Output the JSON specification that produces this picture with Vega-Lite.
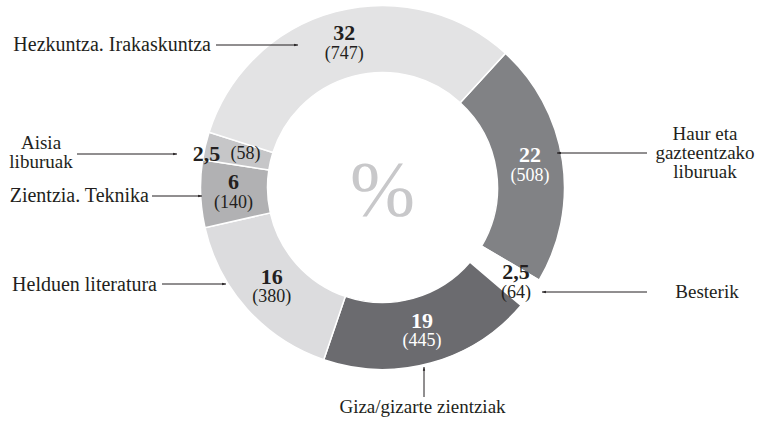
{
  "$schema": "https://vega.github.io/schema/vega-lite/v6.json",
  "width": 763,
  "height": 421,
  "autosize": {"type": "fit", "contains": "padding"},
  "padding": 0,
  "background": "white",
  "config": {"view": {"stroke": null}, "text": {"font": "Liberation Serif", "color": "#231f20"}},
  "datasets": {
    "slices": [
      {"cat": "Haur eta gazteentzako liburuak", "count": 508, "pct": "22", "lab": "(508)", "ord": 1},
      {"cat": "Besterik", "count": 64, "pct": "2,5", "lab": "(64)", "ord": 2},
      {"cat": "Giza/gizarte zientziak", "count": 445, "pct": "19", "lab": "(445)", "ord": 3},
      {"cat": "Helduen literatura", "count": 380, "pct": "16", "lab": "(380)", "ord": 4},
      {"cat": "Zientzia. Teknika", "count": 140, "pct": "6", "lab": "(140)", "ord": 5},
      {"cat": "Aisia liburuak", "count": 58, "pct": "2,5", "lab": "(58)", "ord": 6},
      {"cat": "Hezkuntza. Irakaskuntza", "count": 747, "pct": "32", "lab": "(747)", "ord": 7}
    ],
    "labelsR": [
      {"t": "Hezkuntza. Irakaskuntza", "x": -171.5, "y": 142.5},
      {"t": "Zientzia. Teknika", "x": -233.5, "y": -8.5},
      {"t": "Helduen literatura", "x": -225.5, "y": -97.5}
    ],
    "labelsC": [
      {"t": "Aisia", "x": -341.5, "y": 44.5},
      {"t": "liburuak", "x": -341.5, "y": 25.5},
      {"t": "Giza/gizarte zientziak", "x": 40, "y": -219.5},
      {"t": "Besterik", "x": 324.5, "y": -104.5},
      {"t": "Haur eta", "x": 322.5, "y": 53.5},
      {"t": "gazteentzako", "x": 322.5, "y": 34.5},
      {"t": "liburuak", "x": 322.5, "y": 15.5}
    ],
    "arrows": [
      {"x": -166.5, "y": 142.5, "x2": -84.5, "y2": 142.5, "dir": "right"},
      {"x": -305.5, "y": 33.5, "x2": -205.5, "y2": 33.5, "dir": "right"},
      {"x": -230.5, "y": -8.5, "x2": -180.5, "y2": -8.5, "dir": "right"},
      {"x": -220.5, "y": -96.5, "x2": -156.5, "y2": -96.5, "dir": "right"},
      {"x": 41.5, "y": -209.5, "x2": 41.5, "y2": -179.5, "dir": "up"},
      {"x": 264.5, "y": -104.5, "x2": 159.5, "y2": -104.5, "dir": "left"},
      {"x": 264.5, "y": 34.5, "x2": 174.5, "y2": 34.5, "dir": "left"}
    ]
  },
  "layer": [
    {
      "data": {"name": "slices"},
      "mark": {"type": "arc", "innerRadius": 115, "outerRadius": 182, "stroke": "white", "strokeWidth": 1.5},
      "encoding": {
        "x": {"datum": 0, "type": "quantitative", "scale": {"domain": [-382.5, 380.5], "nice": false, "zero": false}, "axis": null},
        "y": {"datum": 0, "type": "quantitative", "scale": {"domain": [-233.5, 187.5], "nice": false, "zero": false}, "axis": null},
        "theta": {"field": "count", "type": "quantitative", "stack": true, "scale": {"range": [0.742, 7.025]}},
        "order": {"field": "ord", "type": "quantitative"},
        "color": {
          "field": "cat", "type": "nominal", "legend": null,
          "scale": {
            "domain": ["Haur eta gazteentzako liburuak", "Besterik", "Giza/gizarte zientziak", "Helduen literatura", "Zientzia. Teknika", "Aisia liburuak", "Hezkuntza. Irakaskuntza"],
            "range": ["#818285", "#ffffff", "#6b6b6f", "#dcdcde", "#b1b1b3", "#c6c6c8", "#e3e3e4"]
          }
        }
      }
    },
    {
      "data": {"name": "slices"},
      "mark": {"type": "text", "radius": 149, "dy": -10.5, "fontSize": 22, "fontWeight": "bold", "font": "Liberation Serif"},
      "encoding": {
        "x": {"datum": 0, "type": "quantitative", "scale": {"domain": [-382.5, 380.5], "nice": false, "zero": false}, "axis": null},
        "y": {"datum": 0, "type": "quantitative", "scale": {"domain": [-233.5, 187.5], "nice": false, "zero": false}, "axis": null},
        "theta": {"field": "count", "type": "quantitative", "stack": true, "scale": {"range": [0.742, 7.025]}},
        "order": {"field": "ord", "type": "quantitative"},
        "detail": {"field": "cat", "type": "nominal"},
        "text": {"field": "pct", "type": "nominal", "condition": {"test": "datum.cat === 'Aisia liburuak' || datum.cat === 'Besterik'", "value": ""}},
        "color": {"condition": {"test": "datum.cat === 'Haur eta gazteentzako liburuak' || datum.cat === 'Giza/gizarte zientziak'", "value": "#ffffff"}, "value": "#231f20"}
      }
    },
    {
      "data": {"name": "slices"},
      "mark": {"type": "text", "radius": 149, "dy": 10, "fontSize": 18, "font": "Liberation Serif"},
      "encoding": {
        "x": {"datum": 0, "type": "quantitative", "scale": {"domain": [-382.5, 380.5], "nice": false, "zero": false}, "axis": null},
        "y": {"datum": 0, "type": "quantitative", "scale": {"domain": [-233.5, 187.5], "nice": false, "zero": false}, "axis": null},
        "theta": {"field": "count", "type": "quantitative", "stack": true, "scale": {"range": [0.742, 7.025]}},
        "order": {"field": "ord", "type": "quantitative"},
        "detail": {"field": "cat", "type": "nominal"},
        "text": {"field": "lab", "type": "nominal", "condition": {"test": "datum.cat === 'Aisia liburuak' || datum.cat === 'Besterik'", "value": ""}},
        "color": {"condition": {"test": "datum.cat === 'Haur eta gazteentzako liburuak' || datum.cat === 'Giza/gizarte zientziak'", "value": "#ffffff"}, "value": "#231f20"}
      }
    },
    {
      "data": {"name": "slices"},
      "mark": {"type": "text", "radius": 164, "dy": -10.5, "fontSize": 22, "fontWeight": "bold", "font": "Liberation Serif"},
      "encoding": {
        "x": {"datum": 0, "type": "quantitative", "scale": {"domain": [-382.5, 380.5], "nice": false, "zero": false}, "axis": null},
        "y": {"datum": 0, "type": "quantitative", "scale": {"domain": [-233.5, 187.5], "nice": false, "zero": false}, "axis": null},
        "theta": {"field": "count", "type": "quantitative", "stack": true, "scale": {"range": [0.742, 7.025]}},
        "order": {"field": "ord", "type": "quantitative"},
        "detail": {"field": "cat", "type": "nominal"},
        "text": {"field": "pct", "type": "nominal", "condition": {"test": "datum.cat !== 'Besterik'", "value": ""}}
      }
    },
    {
      "data": {"name": "slices"},
      "mark": {"type": "text", "radius": 164, "dy": 10, "fontSize": 18, "font": "Liberation Serif"},
      "encoding": {
        "x": {"datum": 0, "type": "quantitative", "scale": {"domain": [-382.5, 380.5], "nice": false, "zero": false}, "axis": null},
        "y": {"datum": 0, "type": "quantitative", "scale": {"domain": [-233.5, 187.5], "nice": false, "zero": false}, "axis": null},
        "theta": {"field": "count", "type": "quantitative", "stack": true, "scale": {"range": [0.742, 7.025]}},
        "order": {"field": "ord", "type": "quantitative"},
        "detail": {"field": "cat", "type": "nominal"},
        "text": {"field": "lab", "type": "nominal", "condition": {"test": "datum.cat !== 'Besterik'", "value": ""}}
      }
    },
    {
      "data": {"name": "slices"},
      "mark": {"type": "text", "radius": 149, "dx": -31, "dy": 1, "fontSize": 22, "fontWeight": "bold", "font": "Liberation Serif"},
      "encoding": {
        "x": {"datum": 0, "type": "quantitative", "scale": {"domain": [-382.5, 380.5], "nice": false, "zero": false}, "axis": null},
        "y": {"datum": 0, "type": "quantitative", "scale": {"domain": [-233.5, 187.5], "nice": false, "zero": false}, "axis": null},
        "theta": {"field": "count", "type": "quantitative", "stack": true, "scale": {"range": [0.742, 7.025]}},
        "order": {"field": "ord", "type": "quantitative"},
        "detail": {"field": "cat", "type": "nominal"},
        "text": {"field": "pct", "type": "nominal", "condition": {"test": "datum.cat !== 'Aisia liburuak'", "value": ""}}
      }
    },
    {
      "data": {"name": "slices"},
      "mark": {"type": "text", "radius": 149, "dx": 8, "dy": 1, "fontSize": 18, "font": "Liberation Serif"},
      "encoding": {
        "x": {"datum": 0, "type": "quantitative", "scale": {"domain": [-382.5, 380.5], "nice": false, "zero": false}, "axis": null},
        "y": {"datum": 0, "type": "quantitative", "scale": {"domain": [-233.5, 187.5], "nice": false, "zero": false}, "axis": null},
        "theta": {"field": "count", "type": "quantitative", "stack": true, "scale": {"range": [0.742, 7.025]}},
        "order": {"field": "ord", "type": "quantitative"},
        "detail": {"field": "cat", "type": "nominal"},
        "text": {"field": "lab", "type": "nominal", "condition": {"test": "datum.cat !== 'Aisia liburuak'", "value": ""}}
      }
    },
    {
      "data": {"values": [{"t": "%"}]},
      "mark": {"type": "text", "fontSize": 78, "font": "Liberation Serif", "color": "#c8c8ca", "baseline": "middle", "align": "center"},
      "encoding": {
        "x": {"datum": 0, "type": "quantitative", "scale": {"domain": [-382.5, 380.5], "nice": false, "zero": false}, "axis": null},
        "y": {"datum": -4, "type": "quantitative", "scale": {"domain": [-233.5, 187.5], "nice": false, "zero": false}, "axis": null},
        "text": {"field": "t", "type": "nominal"}
      }
    },
    {
      "data": {"name": "labelsR"},
      "mark": {"type": "text", "fontSize": 20, "font": "Liberation Serif", "align": "right", "baseline": "middle", "color": "#231f20"},
      "encoding": {
        "x": {"field": "x", "type": "quantitative", "scale": {"domain": [-382.5, 380.5], "nice": false, "zero": false}, "axis": null},
        "y": {"field": "y", "type": "quantitative", "scale": {"domain": [-233.5, 187.5], "nice": false, "zero": false}, "axis": null},
        "text": {"field": "t", "type": "nominal"}
      }
    },
    {
      "data": {"name": "labelsC"},
      "mark": {"type": "text", "fontSize": 19, "font": "Liberation Serif", "align": "center", "baseline": "middle", "color": "#231f20"},
      "encoding": {
        "x": {"field": "x", "type": "quantitative", "scale": {"domain": [-382.5, 380.5], "nice": false, "zero": false}, "axis": null},
        "y": {"field": "y", "type": "quantitative", "scale": {"domain": [-233.5, 187.5], "nice": false, "zero": false}, "axis": null},
        "text": {"field": "t", "type": "nominal"}
      }
    },
    {
      "data": {"name": "arrows"},
      "mark": {"type": "rule", "color": "#231f20", "strokeWidth": 1},
      "encoding": {
        "x": {"field": "x", "type": "quantitative", "scale": {"domain": [-382.5, 380.5], "nice": false, "zero": false}, "axis": null},
        "y": {"field": "y", "type": "quantitative", "scale": {"domain": [-233.5, 187.5], "nice": false, "zero": false}, "axis": null},
        "x2": {"field": "x2"},
        "y2": {"field": "y2"}
      }
    },
    {
      "data": {"name": "arrows"},
      "mark": {"type": "point", "filled": true, "color": "#231f20", "opacity": 1, "size": 60, "strokeWidth": 0},
      "encoding": {
        "x": {"field": "x2", "type": "quantitative", "scale": {"domain": [-382.5, 380.5], "nice": false, "zero": false}, "axis": null},
        "y": {"field": "y2", "type": "quantitative", "scale": {"domain": [-233.5, 187.5], "nice": false, "zero": false}, "axis": null},
        "shape": {
          "field": "dir", "type": "nominal", "legend": null,
          "scale": {"domain": ["right", "left", "up"], "range": ["M0,0L-1,-0.3L-1,0.3Z", "M0,0L1,-0.3L1,0.3Z", "M0,0L-0.3,1L0.3,1Z"]}
        }
      }
    }
  ]
}
